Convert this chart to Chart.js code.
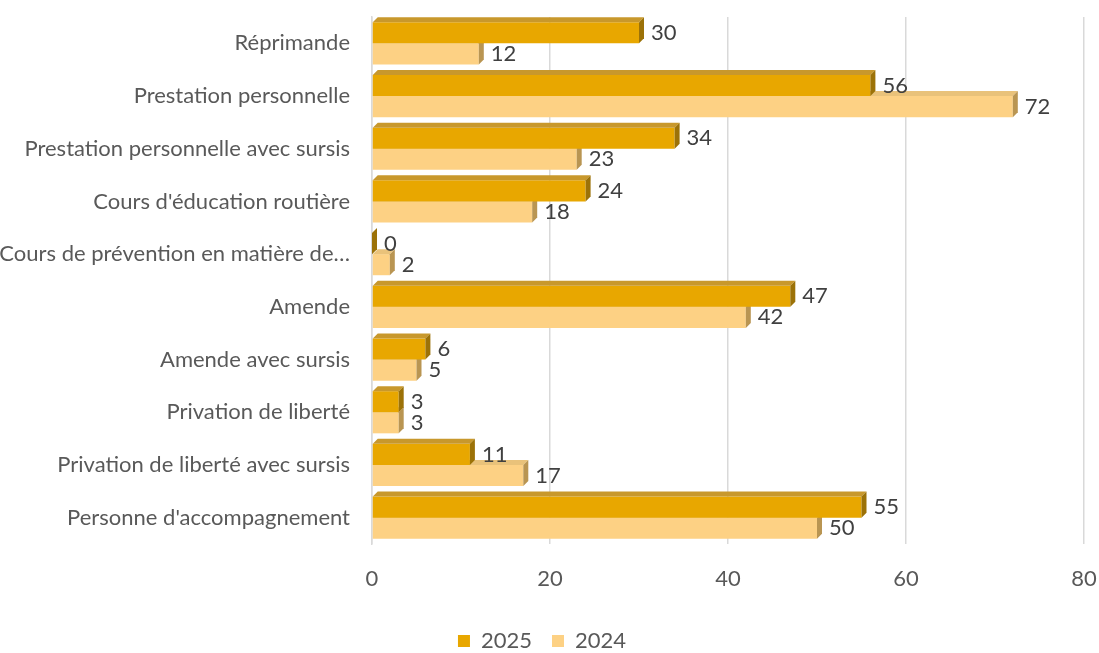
<!DOCTYPE html>
<html>
<head>
<meta charset="utf-8">
<script src="https://cdn.jsdelivr.net/npm/chart.js@4/dist/chart.umd.min.js"></script>
<style>
    html, body { margin: 0; padding: 0; background: #fff; }
    #wrap { width: 1099px; height: 653px; }
</style>
</head>
<body>
<div id="wrap"><canvas id="myChart" width="1099" height="653"></canvas></div>
<script>
const categories = [
    'Réprimande',
    'Prestation personnelle',
    'Prestation personnelle avec sursis',
    "Cours d'éducation routière",
    'Cours de prévention en matière de…',
    'Amende',
    'Amende avec sursis',
    'Privation de liberté',
    'Privation de liberté avec sursis',
    "Personne d'accompagnement"
];
const values2025 = [30, 56, 34, 24, 0, 47, 6, 3, 11, 55];
const values2024 = [12, 72, 23, 18, 2, 42, 5, 3, 17, 50];
const xTicks = [0, 20, 40, 60, 80];

const depth = 5;
const font = 'Lato, "Open Sans", sans-serif';

// colours for front / top / side of each series
const faces = {
    0: { front: '#E8A700', top: '#C8982C', side: '#9C7208' },
    1: { front: '#FDD184', top: '#E9C27A', side: '#B99552' }
};

// fake 3D: top and side faces, then the value label
const bars3d = {
    id: 'bars3d',
    afterDatasetDraw(chart, args) {
        const c = chart.ctx;
        const f = faces[args.index];
        const meta = args.meta;
        c.save();
        meta.data.forEach(function (bar, i) {
            const p = bar.getProps(['x', 'y', 'base', 'height'], true);
            const top = p.y - p.height / 2;
            const bottom = p.y + p.height / 2;

            c.fillStyle = f.top;
            c.beginPath();
            c.moveTo(p.base, top);
            c.lineTo(p.base + depth, top - depth);
            c.lineTo(p.x + depth, top - depth);
            c.lineTo(p.x, top);
            c.closePath();
            c.fill();

            c.fillStyle = f.side;
            c.beginPath();
            c.moveTo(p.x, top);
            c.lineTo(p.x + depth, top - depth);
            c.lineTo(p.x + depth, bottom - depth);
            c.lineTo(p.x, bottom);
            c.closePath();
            c.fill();

            const v = chart.data.datasets[args.index].data[i];
            c.fillStyle = '#404040';
            c.font = '22px ' + font;
            c.textAlign = 'left';
            c.textBaseline = 'middle';
            c.fillText(v, p.x + depth + 7, p.y);
        });
        c.restore();
    }
};

const ctx = document.getElementById('myChart');

const myChart = new Chart(ctx, {
    type: 'bar',
    data: {
        labels: categories,
        datasets: [{
            label: '2025',
            data: values2025,
            backgroundColor: faces[0].front,
            borderWidth: 0,
            categoryPercentage: 0.8,
            barPercentage: 1
        }, {
            label: '2024',
            data: values2024,
            backgroundColor: faces[1].front,
            borderWidth: 0,
            categoryPercentage: 0.8,
            barPercentage: 1
        }]
    },
    options: {
        indexAxis: 'y',
        responsive: false,
        animation: false,
        layout: {
            padding: { top: 17, right: 15, left: 0, bottom: -9 }
        },
        scales: {
            x: {
                min: 0,
                max: 80,
                afterBuildTicks(scale) {
                    scale.ticks = xTicks.map(v => ({ value: v }));
                },
                afterFit(scale) {
                    scale.height = 66;
                    scale.paddingLeft = 0;
                    scale.paddingRight = 0;
                },
                grid: {
                    color: '#D9D9D9',
                    lineWidth: 1.5,
                    drawTicks: false
                },
                border: { display: false },
                ticks: {
                    color: '#595959',
                    padding: 22,
                    font: { family: font, size: 22 }
                }
            },
            y: {
                afterFit(scale) {
                    scale.width = 372;
                    scale.paddingTop = 0;
                    scale.paddingBottom = 0;
                },
                grid: { display: false, drawTicks: false },
                border: { color: '#D9D9D9', width: 1.5 },
                ticks: {
                    color: '#595959',
                    padding: 22,
                    font: { family: font, size: 22 }
                }
            }
        },
        plugins: {
            legend: {
                position: 'bottom',
                labels: {
                    color: '#595959',
                    boxWidth: 12,
                    boxHeight: 12,
                    padding: 20,
                    font: { family: font, size: 22 }
                }
            },
            tooltip: { enabled: false }
        }
    },
    plugins: [bars3d]
});
</script>
</body>
</html>
